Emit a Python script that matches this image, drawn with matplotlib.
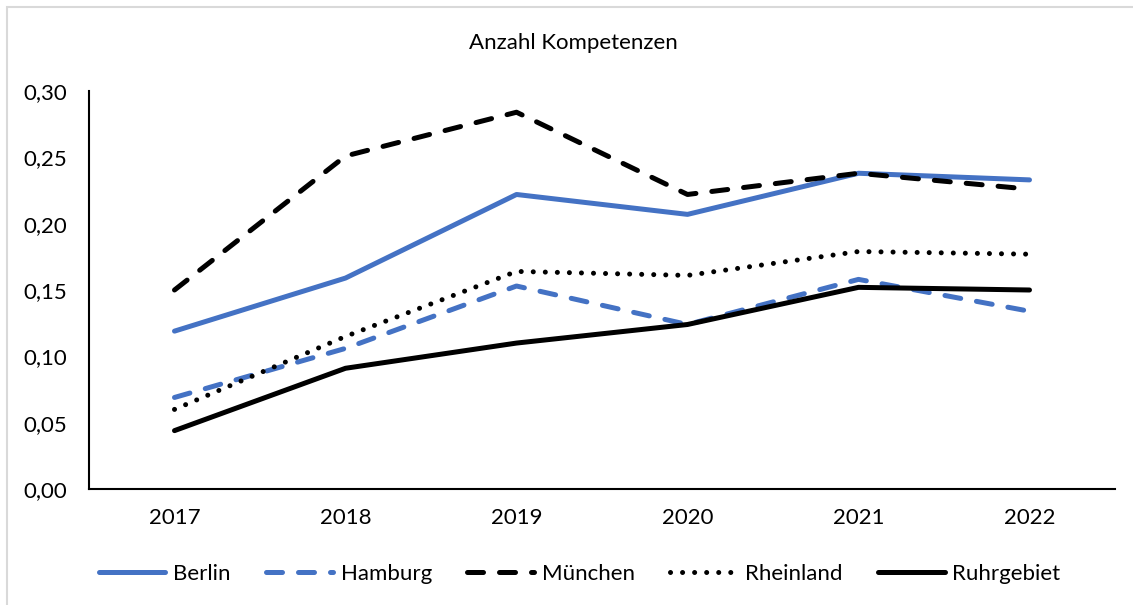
import matplotlib
matplotlib.use("Agg")
import matplotlib.pyplot as plt
from matplotlib.patches import Rectangle
from matplotlib.ticker import FuncFormatter

plt.rcParams['font.family'] = ['Lato', 'DejaVu Sans']

years = ["2017", "2018", "2019", "2020", "2021", "2022"]
berlin = [0.119, 0.159, 0.222, 0.207, 0.238, 0.233]
hamburg = [0.069, 0.106, 0.153, 0.124, 0.158, 0.134]
muenchen = [0.150, 0.251, 0.284, 0.222, 0.238, 0.226]
rheinland = [0.060, 0.115, 0.164, 0.161, 0.179, 0.177]
ruhrgebiet = [0.044, 0.091, 0.110, 0.124, 0.152, 0.150]

BLUE = "#4472C4"
BLACK = "#000000"

fig = plt.figure(figsize=(11.33, 6.05), dpi=100)
ax = fig.add_axes([89 / 1133, (605 - 489) / 605, (1115 - 89) / 1133, (489 - 91) / 605])

x = list(range(len(years)))
lw = 3.6
dash = (0, (3.2, 3.2))
dots = (0, (0.01, 2.4))

series = [
    ("Berlin", berlin, BLUE, "-"),
    ("Hamburg", hamburg, BLUE, dash),
    ("München", muenchen, BLACK, dash),
    ("Rheinland", rheinland, BLACK, dots),
    ("Ruhrgebiet", ruhrgebiet, BLACK, "-"),
]
for name, vals, col, ls in series:
    ax.plot(x, vals, color=col, linestyle=ls, linewidth=lw, label=name,
            dash_capstyle="round", solid_capstyle="round", solid_joinstyle="round")

ax.set_xlim(-0.5, len(years) - 0.5)
ax.set_ylim(0, 0.30)
ax.set_yticks([0, 0.05, 0.10, 0.15, 0.20, 0.25, 0.30])
ax.yaxis.set_major_formatter(FuncFormatter(lambda v, p: f"{v:.2f}".replace(".", ",")))
ax.set_xticks(x)
ax.set_xticklabels(years)
ax.tick_params(axis="both", length=0, labelsize=16, colors="#000000")
ax.tick_params(axis="y", pad=16)
ax.tick_params(axis="x", pad=14)
for s in ("top", "right"):
    ax.spines[s].set_visible(False)
for s in ("left", "bottom"):
    ax.spines[s].set_linewidth(1.5)
    ax.spines[s].set_color("#000000")

fig.text(573.5 / 1133, (605 - 43) / 605, "Anzahl Kompetenzen", ha="center", va="center", fontsize=16)

fig.legend(loc="center", bbox_to_anchor=(579.5 / 1133, (605 - 574) / 605), ncol=5, frameon=False,
           fontsize=16, handlelength=3.0, handletextpad=0.35, columnspacing=1.6)

# chart frame
fig.add_artist(Rectangle((7 / 1133, -0.1), 1.2, (605 - 7) / 605 + 0.1, transform=fig.transFigure,
                         fill=False, edgecolor="#D9D9D9", linewidth=1.5))

fig.savefig("out.png", dpi=100)
